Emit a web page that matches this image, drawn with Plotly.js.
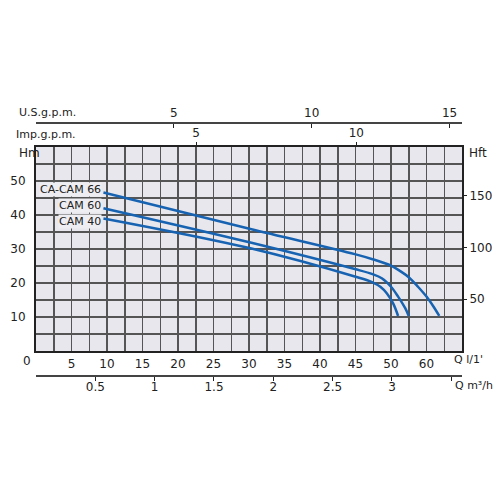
<!DOCTYPE html>
<html>
<head>
<meta charset="utf-8">
<script src="https://cdn.plot.ly/plotly-3.0.1.min.js"></script>
<style>html,body{margin:0;padding:0;background:#fff;}#chart{width:500px;height:500px;}</style>
</head>
<body>
<div id="chart"></div>
<script>
// ---- data ----
var seriesNames = ['CA-CAM 66', 'CAM 60', 'CAM 40'];
var q66 = [9.5, 30.2, 44.9, 47.4, 50.0, 51.3, 52.5, 53.8, 55.0, 56.0, 56.8];
var h66 = [46.6, 35.9, 28.5, 27.0, 25.1, 23.5, 21.7, 18.9, 16.0, 13.0, 10.3];
var q60 = [9.5, 30.2, 44.9, 47.4, 48.7, 50.0, 51.0, 52.0, 52.5];
var h60 = [42.0, 31.9, 24.1, 22.6, 21.4, 18.9, 16.0, 12.6, 10.3];
var q40 = [9.5, 30.2, 44.9, 47.4, 48.5, 49.4, 50.3, 51.0];
var h40 = [39.0, 30.2, 21.9, 20.2, 18.9, 17.0, 14.0, 10.3];

var qTickVals = [5, 10, 15, 20, 25, 30, 35, 40, 45, 50, 55];
var qTickText = ['5', '10', '15', '20', '25', '30', '35', '40', '45', '50', '60'];
var hmTickVals = [10, 20, 30, 40, 50];
var hftTickVals = [50, 100, 150];
var usTickVals = [5, 10, 15];
var impTickVals = [5, 10];
var m3hTickVals = [0.5, 1, 1.5, 2, 2.5, 3, 3.5];
var m3hTickText = ['0.5', '1', '1.5', '2', '2.5', '3', ''];

// ---- build grid ticks (every 2.5 l/min, every 5 m) ----
var xGridVals = [], xGridText = [];
for (var i = 1; i < 24; i++) {
  var v = i * 2.5;
  xGridVals.push(v);
  var k = qTickVals.indexOf(v);
  xGridText.push(k >= 0 ? qTickText[k] : '');
}
var yGridVals = [], yGridText = [];
for (var j = 1; j < 12; j++) {
  var w = j * 5;
  yGridVals.push(w);
  yGridText.push(hmTickVals.indexOf(w) >= 0 ? String(w) : '');
}

var FONT = 'DejaVu Sans';
var TXT = '#222';
var BLUE = '#1763b2';
var GRID = '#555';

var curves = [[q66, h66], [q60, h60], [q40, h40]];
var traces = curves.map(function (c, idx) {
  return {
    x: c[0], y: c[1], xaxis: 'x', yaxis: 'y', name: seriesNames[idx],
    mode: 'lines', line: {color: BLUE, width: 2.5, shape: 'spline', smoothing: 1},
    showlegend: false, hoverinfo: 'skip'
  };
});
// helper traces so every secondary axis is drawn
[['x', 'y2'], ['x3', 'y'], ['x4', 'y'], ['x5', 'y']].forEach(function (p) {
  traces.push({x: [null], y: [null], xaxis: p[0], yaxis: p[1], mode: 'markers',
    marker: {opacity: 0}, showlegend: false, hoverinfo: 'skip'});
});

var yDom = [0.169, 0.8724];
var tf = {family: FONT, size: 12, color: TXT, stretch: 'condensed'};
var af = {family: FONT, size: 11, color: TXT, stretch: 'condensed'};
var lf = {family: FONT, size: 11, color: TXT, stretch: 'condensed'};

var layout = {
  width: 500, height: 500,
  margin: {l: 36, r: 38, t: 110, b: 100},
  paper_bgcolor: '#ffffff',
  plot_bgcolor: '#e7e7ed',
  font: tf,
  showlegend: false,
  xaxis: {
    domain: [0, 1], anchor: 'y', range: [0, 60],
    tickmode: 'array', tickvals: xGridVals, ticktext: xGridText,
    ticks: 'outside', ticklen: 1, tickcolor: 'rgba(0,0,0,0)',
    showgrid: true, gridcolor: GRID, gridwidth: 1.5,
    showline: true, linecolor: TXT, linewidth: 2, mirror: true,
    zeroline: false, tickfont: tf, fixedrange: true
  },
  yaxis: {
    domain: yDom, anchor: 'x', range: [0, 60],
    tickmode: 'array', tickvals: yGridVals, ticktext: yGridText,
    ticks: 'outside', ticklen: 6, tickcolor: 'rgba(0,0,0,0)',
    showgrid: true, gridcolor: GRID, gridwidth: 1.5,
    showline: true, linecolor: TXT, linewidth: 2, mirror: true,
    zeroline: false, tickfont: tf, fixedrange: true
  },
  yaxis2: {
    domain: yDom, anchor: 'x', overlaying: 'y', side: 'right',
    range: [0, 60 * 3.2808],
    tickmode: 'array', tickvals: hftTickVals,
    ticks: 'outside', ticklen: 4, tickwidth: 1, tickcolor: TXT,
    showgrid: false, zeroline: false, showline: false,
    tickfont: tf, fixedrange: true
  },
  xaxis3: { // Imp. g.p.m. at top of plot
    overlaying: 'x', anchor: 'y', side: 'top', range: [0, 13.3],
    tickmode: 'array', tickvals: impTickVals,
    ticks: 'outside', ticklen: 4, tickwidth: 1, tickcolor: TXT,
    showgrid: false, zeroline: false, showline: false,
    tickfont: tf, fixedrange: true
  },
  xaxis4: { // U.S. g.p.m.
    overlaying: 'x', anchor: 'free', position: 0.9586, side: 'top',
    range: [0, 15.45],
    tickmode: 'array', tickvals: usTickVals,
    ticks: 'inside', ticklen: 4, tickwidth: 1, tickcolor: TXT,
    showgrid: false, zeroline: false,
    showline: true, linecolor: '#444', linewidth: 1.5,
    tickfont: tf, fixedrange: true
  },
  xaxis5: { // m3/h
    overlaying: 'x', anchor: 'free', position: 0.0862, side: 'bottom',
    range: [0, 3.59],
    tickmode: 'array', tickvals: m3hTickVals, ticktext: m3hTickText,
    ticks: 'outside', ticklen: 4, tickwidth: 1, tickcolor: TXT,
    ticklabelstandoff: -4,
    showgrid: false, zeroline: false,
    showline: true, linecolor: '#444', linewidth: 1.5,
    tickfont: tf, fixedrange: true
  },
  annotations: [
    {text: 'U.S.g.p.m.', xref: 'paper', yref: 'paper', x: -0.0446, y: 0.993, xanchor: 'left', yanchor: 'middle', showarrow: false, font: af},
    {text: 'Imp.g.p.m.', xref: 'paper', yref: 'paper', x: -0.0516, y: 0.917, xanchor: 'left', yanchor: 'middle', showarrow: false, font: af},
    {text: 'Hm', xref: 'paper', yref: 'paper', x: -0.045, y: 0.852, xanchor: 'left', yanchor: 'middle', showarrow: false, font: tf},
    {text: 'Hft', xref: 'paper', yref: 'paper', x: 1.012, y: 0.852, xanchor: 'left', yanchor: 'middle', showarrow: false, font: tf},
    {text: "Q l/1'", xref: 'paper', yref: 'paper', x: 0.9765, y: 0.138, xanchor: 'left', yanchor: 'middle', showarrow: false, font: af},
    {text: 'Q m³/h', xref: 'paper', yref: 'paper', x: 0.978, y: 0.05, xanchor: 'left', yanchor: 'middle', showarrow: false, font: af},
    {text: '0', xref: 'paper', yref: 'paper', x: -0.021, y: 0.1345, xanchor: 'center', yanchor: 'middle', showarrow: false, font: tf},
    {text: seriesNames[0], xref: 'x', yref: 'y', x: 9.3, y: 47.5, xanchor: 'right', yanchor: 'middle', showarrow: false, font: lf, bgcolor: '#eeeef2', borderpad: 0},
    {text: seriesNames[1], xref: 'x', yref: 'y', x: 9.3, y: 42.8, xanchor: 'right', yanchor: 'middle', showarrow: false, font: lf, bgcolor: '#eeeef2', borderpad: 0},
    {text: seriesNames[2], xref: 'x', yref: 'y', x: 9.3, y: 38.0, xanchor: 'right', yanchor: 'middle', showarrow: false, font: lf, bgcolor: '#eeeef2', borderpad: 0}
  ]
};

Plotly.newPlot('chart', traces, layout, {displayModeBar: false, staticPlot: true});
</script>
</body>
</html>
